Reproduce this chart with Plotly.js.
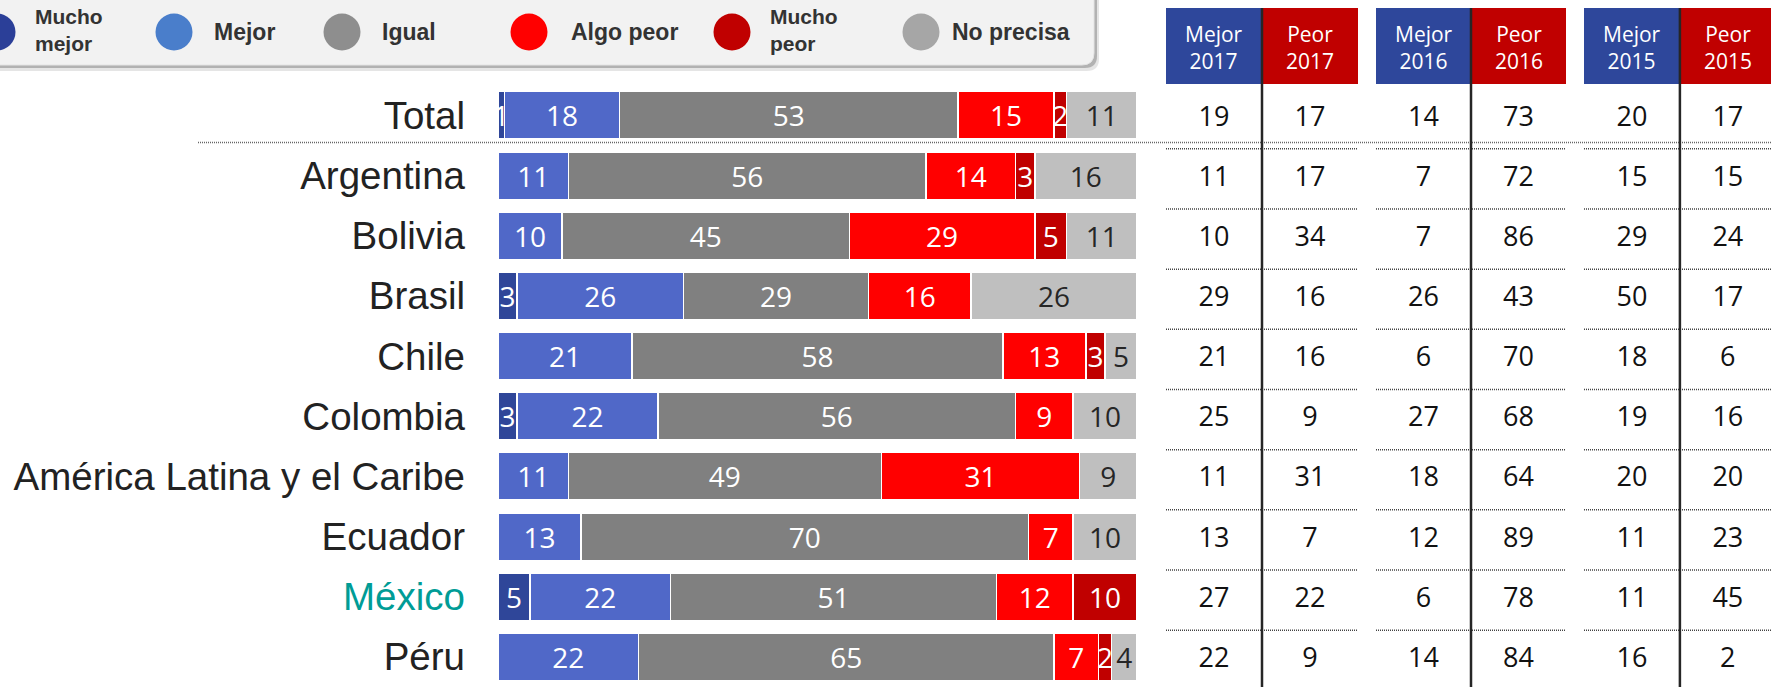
<!DOCTYPE html>
<html>
<head>
<meta charset="utf-8">
<script src="https://cdn.plot.ly/plotly-3.0.1.min.js"></script>
<style>
  html, body { margin: 0; padding: 0; background: #fff; }
  #chart { width: 1771px; height: 687px; }
</style>
</head>
<body>
<div id="chart"></div>
<script>
// Rows, top to bottom
const countries = ['Total', 'Argentina', 'Bolivia', 'Brasil', 'Chile', 'Colombia',
  'América Latina y el Caribe', 'Ecuador', 'México', 'Péru'];

// Answer categories (stacked bars, %)
const categories = ['Mucho mejor', 'Mejor', 'Igual', 'Algo peor', 'Mucho peor', 'No precisa'];
const muchoMejor = [1, 0, 0, 3, 0, 3, 0, 0, 5, 0];
const mejor      = [18, 11, 10, 26, 21, 22, 11, 13, 22, 22];
const igual      = [53, 56, 45, 29, 58, 56, 49, 70, 51, 65];
const algoPeor   = [15, 14, 29, 16, 13, 9, 31, 7, 12, 7];
const muchoPeor  = [2, 3, 5, 0, 3, 0, 0, 0, 10, 2];
const noPrecisa  = [11, 16, 11, 26, 5, 10, 9, 10, 0, 4];

// Side table: Mejor / Peor by year
const tableYears = ['2017', '2016', '2015'];
const mejor2017 = [19, 11, 10, 29, 21, 25, 11, 13, 27, 22];
const peor2017  = [17, 17, 34, 16, 16, 9, 31, 7, 22, 9];
const mejor2016 = [14, 7, 7, 26, 6, 27, 18, 12, 6, 14];
const peor2016  = [73, 72, 86, 43, 70, 68, 64, 89, 78, 84];
const mejor2015 = [20, 15, 29, 50, 18, 19, 20, 11, 11, 16];
const peor2015  = [17, 15, 24, 17, 6, 16, 20, 23, 45, 2];

const W = 1771, H = 687;
const px = x => x / W;
const py = y => 1 - y / H;

const barColors = ['#2F4699', '#5068C8', '#808080', '#FF0000', '#C00000', '#BFBFBF'];
const textColors = ['#fff', '#fff', '#fff', '#fff', '#fff', '#262626'];
const legendColors = ['#2B3F98', '#4A7ECB', '#8E8E8E', '#FF0000', '#C00000', '#A6A6A6'];
const legendCircleX = [-3, 174, 342, 529, 732, 921];
const legendTextX = [33, 212, 380, 569, 768, 950];
const numFont = 'Open Sans, Noto Sans, sans-serif';

const barSeries = [muchoMejor, mejor, igual, algoPeor, muchoPeor, noPrecisa];

const traces = barSeries.map((vals, i) => ({
  type: 'bar',
  orientation: 'h',
  name: categories[i],
  x: vals,
  y: countries,
  marker: { color: barColors[i], line: { color: '#fff', width: 1.5 } },
  text: vals.map(v => v > 0 ? String(v) : ''),
  textposition: 'inside',
  insidetextanchor: 'middle',
  constraintext: 'none',
  textangle: 0,
  textfont: { family: numFont, size: 28, color: textColors[i] },
  hoverinfo: 'x+name',
  showlegend: false
}));

// table sits on its own y axis, a few px lower than the bars
const tableMejor = [mejor2017, mejor2016, mejor2015];
const tablePeor = [peor2017, peor2016, peor2015];
tableYears.forEach((yr, g) => {
  const xa = 'x' + (g + 2);
  [['Mejor', tableMejor[g]], ['Peor', tablePeor[g]]].forEach(([col, vals]) => {
    traces.push({
      type: 'scatter',
      mode: 'text',
      xaxis: xa,
      yaxis: 'y2',
      x: vals.map(() => col),
      y: countries,
      text: vals.map(String),
      textposition: 'middle center',
      textfont: { family: numFont, size: 27, color: '#111' },
      hoverinfo: 'skip',
      showlegend: false
    });
  });
});

const shapes = [];
const annotations = [];

// legend box with soft shadow, only bottom-right corner is visible
function boxPath(x0, y0, x1, y1, r) {
  return `M${px(x0)},${py(y0)} L${px(x1)},${py(y0)} L${px(x1)},${py(y1 - r)} ` +
    `Q${px(x1)},${py(y1)} ${px(x1 - r)},${py(y1)} L${px(x0)},${py(y1)} Z`;
}
shapes.push({ type: 'path', xref: 'paper', yref: 'paper', path: boxPath(-20, -20, 1099, 71, 12),
  fillcolor: 'rgba(0,0,0,0.10)', line: { width: 0 } });
shapes.push({ type: 'path', xref: 'paper', yref: 'paper', path: boxPath(-20, -20, 1097, 68, 12),
  fillcolor: 'rgba(0,0,0,0.22)', line: { width: 0 } });
shapes.push({ type: 'path', xref: 'paper', yref: 'paper', path: boxPath(-20, -20, 1094, 65, 12),
  fillcolor: '#F2F2F2', line: { color: '#E4E4E4', width: 1 } });

categories.forEach((name, i) => {
  const cx = legendCircleX[i], cy = 32, r = 18.5;
  shapes.push({ type: 'circle', xref: 'paper', yref: 'paper',
    x0: px(cx - r), x1: px(cx + r), y0: py(cy + r), y1: py(cy - r),
    fillcolor: legendColors[i], line: { width: 0 } });
  const twoLines = name.startsWith('Mucho');
  annotations.push({
    xref: 'paper', yref: 'paper', x: px(legendTextX[i]), y: py(twoLines ? 30 : 32),
    xanchor: 'left', yanchor: 'middle', align: 'left', showarrow: false,
    text: twoLines ? name.replace(' ', '<br>') : name,
    font: { family: 'Liberation Sans, Arial, sans-serif', size: twoLines ? 21 : 23,
      weight: 'bold', color: '#333' }
  });
});

// dotted separator under Total, across the whole chart
shapes.push({ type: 'line', xref: 'paper', yref: 'y', x0: px(198), x1: 1, y0: 0.45, y1: 0.45,
  line: { color: '#666', width: 1.5, dash: '1px,1px' } });

// table headers, row separators and column dividers
tableYears.forEach((yr, g) => {
  const xa = 'x' + (g + 2);
  ['Mejor', 'Peor'].forEach((col, c) => {
    shapes.push({ type: 'rect', xref: xa, yref: 'paper', x0: c - 0.5, x1: c + 0.5,
      y0: py(84), y1: py(8), fillcolor: c === 0 ? '#2E479B' : '#C00000', line: { width: 0 } });
    annotations.push({ xref: xa, yref: 'paper', x: c, y: py(47), yanchor: 'middle', xanchor: 'center',
      showarrow: false, text: col + '<br>' + yr,
      font: { family: numFont, size: 21, color: '#fff' } });
  });
  for (let i = 0; i < countries.length - 1; i++) {
    shapes.push({ type: 'line', xref: xa, yref: 'y2', x0: -0.5, x1: 1.5, y0: i + 0.5, y1: i + 0.5,
      line: { color: '#444', width: 1.5, dash: '1px,1px' } });
  }
  shapes.push({ type: 'line', xref: xa, yref: 'paper', x0: 0.5, x1: 0.5, y0: 0, y1: py(8),
    line: { color: '#262626', width: 2.5 } });
});

const tableAxis = (x0, x1, range) => ({
  domain: [px(x0), px(x1)], anchor: 'y2', type: 'category',
  categoryorder: 'array', categoryarray: ['Mejor', 'Peor'],
  range: range || [-0.5, 1.5], visible: false, fixedrange: true
});

const rowShift = 0.055; // table rows sit ~3px below the bar centres

const layout = {
  width: W,
  height: H,
  margin: { l: 0, r: 0, t: 0, b: 0 },
  paper_bgcolor: '#fff',
  plot_bgcolor: 'rgba(0,0,0,0)',
  barmode: 'stack',
  bargap: 0.21,
  showlegend: false,
  xaxis: { domain: [px(498), px(1137)], range: [0, 100], visible: false, fixedrange: true },
  xaxis2: tableAxis(1166, 1358),
  xaxis3: tableAxis(1376, 1566),
  xaxis4: tableAxis(1584, 1771, [-0.5, 1.45]),
  yaxis: {
    domain: [0, py(85.4)],
    type: 'category',
    categoryorder: 'array',
    categoryarray: countries,
    range: [countries.length - 0.5, -0.5],
    tickvals: countries,
    ticktext: countries.map(c => c === 'México' ? `<span style="color:#009C96">${c}</span>` : c),
    ticks: '',
    showgrid: false,
    showline: false,
    zeroline: false,
    ticklabelstandoff: 32,
    tickfont: { family: 'Liberation Sans, Arial, sans-serif', size: 38.5, color: '#222' },
    fixedrange: true
  },
  yaxis2: {
    domain: [0, py(85.4)],
    anchor: 'x2',
    type: 'category',
    categoryorder: 'array',
    categoryarray: countries,
    range: [countries.length - 0.5 - rowShift, -0.5 - rowShift],
    visible: false,
    fixedrange: true
  },
  shapes: shapes,
  annotations: annotations
};

Plotly.newPlot('chart', traces, layout, { displayModeBar: false, responsive: false });
</script>
</body>
</html>
